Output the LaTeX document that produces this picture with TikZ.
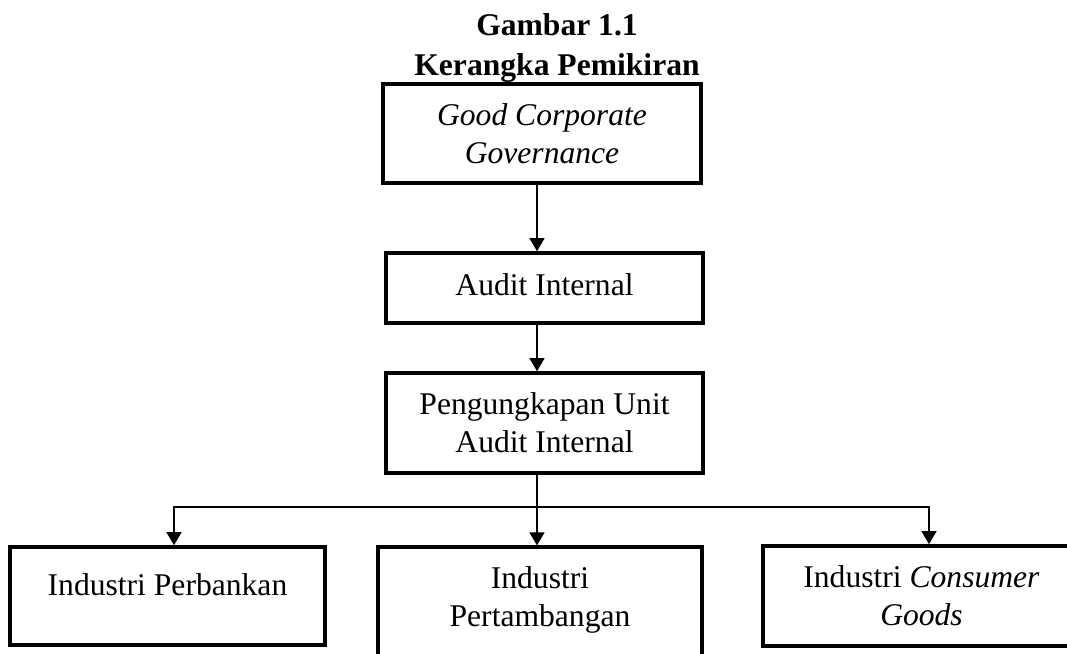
\documentclass[tikz,border=0pt]{standalone}
\usepackage{fontspec}
\setmainfont{Liberation Serif}
\usetikzlibrary{arrows.meta}
\begin{document}
\begin{tikzpicture}[x=1pt,y=-1pt,
  box/.style={draw=black, line width=3.6pt, rectangle, inner sep=0pt, align=center,
    font=\fontsize{31.6}{38}\selectfont},
  conn/.style={line width=1.2pt, draw=black},
  arr/.style={conn, -{Triangle[width=15pt,length=13pt]}},
  titletext/.style={inner sep=0pt, align=center, font=\fontsize{31.6}{40}\selectfont\bfseries}]
\useasboundingbox (0,0) rectangle (1067,653);
\node[titletext] (title) at (557,47.6) {Gambar 1.1\\Kerangka Pemikiran};
\node[box, minimum width=318pt, minimum height=99pt] (gcg) at (542,133.5)
  {\itshape Good Corporate\\\itshape Governance};
\node[box, minimum width=317pt, minimum height=70pt, text height=21.6pt, text depth=7.6pt] (audit) at (544.5,288)
  {Audit Internal};
\node[box, minimum width=317pt, minimum height=100pt] (peng) at (544.5,423)
  {Pengungkapan Unit\\Audit Internal};
\node[box, minimum width=315pt, minimum height=98pt, text height=21.6pt, text depth=23.6pt] (bank) at (167.5,596)
  {Industri Perbankan};
\node[box, minimum width=324pt, minimum height=137pt] (tambang) at (540,615.7)
  {Industri\\Pertambangan\\\mbox{}};
\node[box, minimum width=317pt, minimum height=100pt] (goods) at (921.5,596)
  {Industri \textit{Consumer}\\\textit{Goods}};
\coordinate (bus) at (537,507);
\draw[arr] ([xshift=-5pt]gcg.south) -- ([xshift=-7.5pt]audit.north);
\draw[arr] ([xshift=-7.5pt]audit.south) -- ([xshift=-7.5pt]peng.north);
\draw[conn] ([xshift=-7.5pt]peng.south) -- (bus);
\draw[arr] (bus) -| ([xshift=6.5pt]bank.north);
\draw[arr] (bus) -| ([xshift=7.5pt]goods.north);
\draw[arr] (bus) -- ([xshift=-3pt]tambang.north);
\end{tikzpicture}
\end{document}
